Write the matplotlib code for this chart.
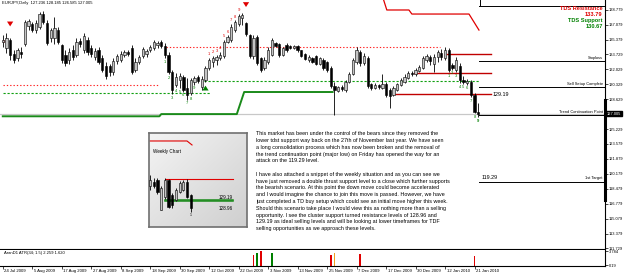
import matplotlib
matplotlib.use("Agg")
import matplotlib.pyplot as plt
import matplotlib.transforms as mtransforms
import numpy as np

plt.rcParams['font.family'] = ['Liberation Sans', 'DejaVu Sans']

W, H = 625, 274

# ---------------- daily EURJPY candles (bar index 0 = 24 Jul 2009) ----------------
opens = [135.1, 134.5, 135.4, 133.8, 133.3, 134.0, 134.9, 137.0, 137.2, 136.5,
         136.8, 138.3, 137.3, 135.6, 135.6, 136.5, 134.8, 133.7, 133.1, 134.2,
         133.7, 135.3, 134.2, 135.4, 134.5, 133.4, 134.2, 133.3, 132.4, 132.4,
         131.7, 133.0, 133.1, 133.7, 134.0, 134.5, 132.0, 132.9, 133.6, 133.8,
         134.2, 134.5, 134.8, 135.1, 134.7, 133.7, 131.7, 130.3, 130.8, 131.2,
         129.9, 129.3, 130.6, 131.2, 130.0, 130.8, 132.2, 132.9, 133.1, 133.3,
         133.6, 135.1, 135.4, 136.5, 137.2, 137.9, 137.3, 135.9, 133.6, 135.7,
         133.3, 132.2, 132.9, 133.7, 135.0, 134.9, 133.7, 134.8, 134.7, 134.5,
         134.7, 134.2, 133.8, 133.1, 133.3, 133.6, 132.6, 133.1, 132.9, 132.2,
         130.1, 129.6, 130.0, 129.7, 130.6, 131.5, 132.9, 134.0, 132.8, 133.3,
         130.4, 129.9, 130.3, 129.9, 130.4, 129.7, 129.1, 129.7, 130.3, 130.6,
         131.1, 131.6, 131.5, 131.8, 132.2, 133.1, 133.4, 132.6, 133.4, 133.9,
         133.3, 134.2, 132.5, 132.0, 132.4, 130.8, 130.5, 130.6, 129.1, 127.236]
highs = [135.9, 136.2, 135.6, 134.2, 134.5, 134.6, 137.6, 137.8, 137.4, 137.6,
         138.5, 138.7, 137.6, 136.7, 138.0, 136.8, 134.9, 134.2, 134.5, 134.8,
         135.6, 135.6, 136.2, 135.7, 134.8, 134.5, 134.6, 133.7, 132.9, 132.6,
         133.3, 133.8, 134.1, 134.2, 134.2, 134.8, 133.3, 133.7, 134.6, 134.3,
         134.8, 135.4, 135.3, 135.4, 135.0, 134.0, 132.0, 131.6, 131.6, 131.4,
         131.1, 131.1, 131.3, 131.4, 131.3, 132.4, 133.3, 133.6, 133.7, 134.0,
         135.4, 135.9, 137.2, 137.6, 138.3, 138.4, 137.4, 136.0, 135.9, 135.9,
         133.4, 133.4, 134.6, 135.6, 135.1, 135.0, 134.6, 135.0, 134.8, 134.8,
         134.8, 134.2, 133.9, 133.7, 133.4, 133.7, 133.4, 133.3, 133.0, 132.4,
         130.6, 130.1, 130.3, 130.8, 131.7, 133.3, 134.6, 134.2, 133.9, 133.6,
         130.5, 130.5, 130.4, 131.5, 130.6, 129.9, 130.1, 130.5, 131.1, 131.5,
         131.8, 131.8, 132.2, 132.5, 133.6, 133.8, 133.7, 133.8, 134.2, 134.3,
         134.6, 134.5, 132.8, 133.4, 132.8, 131.3, 130.9, 130.8, 129.3, 128.185]
lows = [134.6, 133.9, 133.1, 132.8, 133.0, 133.3, 134.7, 136.5, 136.3, 136.2,
        136.6, 137.2, 134.8, 135.1, 134.9, 134.9, 132.8, 132.4, 132.6, 133.1,
        133.4, 134.6, 133.9, 133.7, 133.4, 133.1, 132.6, 131.7, 130.9, 131.3,
        131.4, 132.6, 132.9, 133.4, 133.6, 131.5, 131.7, 132.6, 133.3, 133.4,
        134.0, 134.2, 134.5, 134.5, 133.3, 131.5, 129.2, 130.0, 129.9, 129.5,
        128.6, 129.1, 130.3, 130.5, 129.7, 130.6, 132.0, 132.3, 132.5, 133.1,
        133.3, 135.0, 135.1, 136.3, 137.0, 137.1, 135.8, 133.3, 133.2, 132.5,
        131.7, 132.0, 132.6, 133.6, 134.6, 133.4, 133.6, 134.0, 134.3, 134.3,
        134.0, 133.4, 133.1, 132.9, 132.8, 132.5, 132.5, 132.0, 131.7, 129.9,
        126.85, 129.5, 129.6, 129.5, 130.5, 131.4, 132.6, 132.4, 132.5, 129.9,
        129.7, 129.8, 129.8, 129.8, 128.9, 127.6, 129.0, 129.6, 130.1, 130.5,
        130.9, 131.3, 131.3, 131.7, 132.1, 132.9, 132.5, 131.7, 132.9, 133.1,
        133.1, 131.7, 132.0, 131.7, 130.5, 130.4, 130.3, 128.9, 127.1, 126.585]
closes = [135.4, 135.6, 133.7, 133.1, 134.2, 133.8, 137.4, 137.5, 136.5, 137.3,
          138.3, 137.4, 135.0, 136.5, 136.7, 135.1, 133.1, 132.8, 134.0, 133.4,
          135.1, 134.9, 135.8, 134.0, 133.8, 134.1, 132.9, 132.0, 131.3, 131.7,
          133.0, 133.6, 133.8, 134.0, 133.8, 131.7, 132.9, 133.4, 134.3, 134.1,
          134.6, 135.1, 135.0, 134.7, 133.7, 131.7, 129.7, 131.2, 131.3, 129.7,
          129.1, 130.8, 131.1, 130.7, 130.9, 132.2, 133.1, 133.3, 133.4, 133.7,
          135.1, 135.7, 136.8, 137.4, 138.1, 138.2, 136.0, 133.6, 135.6, 132.8,
          132.0, 133.1, 134.2, 135.4, 134.7, 133.7, 134.5, 134.2, 134.5, 134.7,
          134.2, 133.6, 133.2, 133.4, 132.9, 132.6, 133.3, 132.2, 132.0, 130.1,
          129.7, 130.0, 129.8, 130.6, 131.5, 133.1, 134.2, 132.8, 133.6, 130.1,
          129.9, 130.3, 130.0, 130.4, 129.1, 129.0, 129.9, 130.4, 130.8, 131.2,
          131.6, 131.5, 132.0, 132.3, 133.3, 133.6, 133.0, 133.4, 134.0, 133.4,
          134.2, 132.0, 132.2, 133.1, 130.8, 130.6, 130.7, 129.1, 127.2, 127.005]

date_idx = list(range(0, 129, 8))
date_labels = ['24 Jul 2009', '5 Aug 2009', '17 Aug 2009', '27 Aug 2009', '8 Sep 2009',
               '18 Sep 2009', '30 Sep 2009', '12 Oct 2009', '22 Oct 2009', '3 Nov 2009',
               '13 Nov 2009', '25 Nov 2009', '7 Dec 2009', '17 Dec 2009', '30 Dec 2009',
               '12 Jan 2010', '21 Jan 2010']
price_ticks = [138.779, 137.079, 135.379, 133.729, 132.029, 130.329, 128.629, 125.229,
               123.579, 121.879, 120.179, 118.479, 116.779, 115.079, 113.379, 111.729]
last_price = 127.005

# TD lines
tdst_sup_x = [0, 42.5, 43, 63.5, 65.5, 89.5]
tdst_sup_y = [126.7, 126.7, 126.95, 126.95, 129.46, 129.46]
tdst_res_x = [102.9, 104.2, 110.2, 111.0, 126.5, 129.2]
tdst_res_y = [140.5, 138.78, 138.78, 138.32, 138.32, 136.5]
red_dot = [(0, 42.4, 130.26), (44.3, 118.5, 134.63)]
green_dash = [(0, 56.4, 129.35), (54.5, 129.2, 130.67)]
red_levels = [(120.4, 132.5, 133.79), (111.5, 132.5, 131.62), (106.4, 132.5, 129.19)]
black_levels = [139.23, 133.02, 130.06, 126.85, 119.29]
black_names = ['', 'Stoploss', 'Sell Setup Complete', 'Trend Continuation Point', '1st Target']

green_setup_idx = list(range(44, 53))
red_setup_idx = list(range(56, 65))
countdown_idx = list(range(121, 130))

# indicator (AranD1 ATR)
ind_idx = [68, 69, 70, 73, 89, 90, 97, 128]
ind_val = [2.8, 3.25, 3.85, 3.3, 2.8, 3.4, 3.1, 2.55]
ind_col = ['#e00000', '#008000', '#e00000', '#008000', '#e00000', '#f0a020', '#e00000', '#e00000']

# weekly snippet
wk_open = [132.22, 133.11, 133.56, 126.87, 129.77, 133.56, 130.22, 129.10, 130.88, 131.33, 133.11, 130.22]
wk_high = [134.68, 134.01, 134.01, 132.22, 134.01, 133.78, 130.66, 131.78, 133.34, 133.56, 133.78, 130.44]
wk_low = [131.33, 131.78, 130.44, 126.87, 129.32, 127.32, 127.32, 128.88, 130.66, 131.11, 129.55, 126.42]
wk_close = [133.56, 132.22, 130.88, 131.78, 133.56, 127.54, 127.99, 131.33, 132.89, 133.11, 129.77, 127.32]

para = [
    "This market has been under the control of the bears since they removed the",
    "lower tdst support way back on the 27th of November last year. We have seen",
    "a long consolidation process which has now been broken and the removal of",
    "the trend continuation point (major low) on Friday has opened the way for an",
    "attack on the 119.29 level.",
    "",
    "I have also attached a snippet of the weekly situation and as you can see we",
    "have just removed a double thrust support level to a close which further supports",
    "the bearish scenario. At this point the down move could become accelerated",
    "and I would imagine the chance to join this move is passed. However, we have",
    "just completed a TD buy setup which could see an initial move higher this week.",
    "Should this scenario take place I would view this as nothing more than a selling",
    "opportunity. I see the cluster support turned resistance levels of 128.96 and",
    "129.19 as ideal selling levels and will be looking at lower timeframes for TDF",
    "selling opportunities as we approach these levels.",
]

RED = '#e00000'
GREEN = '#008000'


def add_ax(x0, y0, x1, y1):
    return fig.add_axes([x0 / W, 1 - y1 / H, (x1 - x0) / W, (y1 - y0) / H])


def candles(ax, o, h, l, c, width):
    x = np.arange(len(o))
    o, h, l, c = map(np.array, (o, h, l, c))
    ax.vlines(x, l, h, color='black', lw=0.6, zorder=3)
    up = c >= o
    ax.bar(x[up], (c - o)[up], bottom=o[up], width=width, color='#c4c4c4',
           edgecolor='black', lw=0.4, zorder=4)
    ax.bar(x[~up], (o - c)[~up], bottom=c[~up], width=width, color='black',
           edgecolor='black', lw=0.4, zorder=4)


fig = plt.figure(figsize=(W / 100, H / 100), dpi=100)

# ---------------- main chart ----------------
ax = add_ax(0, 0, 605, 249)
ax.set_xlim(-0.75, 163.4)
ax.set_ylim(111.62, 139.915)
for s in ['top', 'left']:
    ax.spines[s].set_visible(False)
for s in ['right', 'bottom']:
    ax.spines[s].set_linewidth(0.8)
ax.set_xticks([])
ax.yaxis.tick_right()
ax.set_yticks(price_ticks)
ax.set_yticklabels([f'{v:.3f}' for v in price_ticks], fontsize=2.9)
ax.tick_params(axis='y', length=2, width=0.5, pad=1)

ax.axhline(last_price, color='#c8c8c8', lw=0.9, zorder=1)
ax.plot(tdst_sup_x, tdst_sup_y, color='#1a8a1a', lw=1.4, zorder=2)
ax.plot(tdst_res_x, tdst_res_y, color=RED, lw=0.9, zorder=2)
for x0, x1, y in red_dot:
    ax.plot([x0, x1], [y, y], color='#ff2020', lw=0.8, ls=(0, (1.2, 1.8)), zorder=2)
for x0, x1, y in green_dash:
    ax.plot([x0, x1], [y, y], color='#10a010', lw=0.8, ls=(0, (2.0, 1.6)), zorder=2)
for x0, x1, y in red_levels:
    ax.plot([x0, x1], [y, y], color='#c00000', lw=1.0, zorder=2)
for y, name in zip(black_levels, black_names):
    ax.plot([129.25, 163.4], [y, y], color='black', lw=0.7, zorder=2)
    if name:
        ax.text(162.8, y + 0.12, name, fontsize=2.9, ha='right', va='bottom')
ax.plot([129.5, 129.5], [139.3, 139.915], color='black', lw=0.7)

candles(ax, opens, highs, lows, closes, 0.62)

# setup / countdown numbers
for k, i in enumerate(green_setup_idx):
    ax.text(i, lows[i] - 0.2, str(k + 1), color=GREEN, fontsize=3, ha='center', va='top')
for k, i in enumerate(red_setup_idx):
    ax.text(i, highs[i] + 0.2, str(k + 1), color=RED, fontsize=3, ha='center', va='bottom')
for k, i in enumerate(countdown_idx):
    ax.text(i, lows[i] - 0.2, str(k + 1), color=GREEN, fontsize=3, ha='center', va='top',
            fontweight='bold' if k == 8 else 'normal')
ax.text(0.3, 135.1, '9', color=RED, fontsize=3, ha='center', va='center')

# arrows
arr = dict(arrowstyle='simple,head_width=0.9,head_length=0.7,tail_width=0.35',
           mutation_scale=5, lw=0)
ax.annotate('', xy=(2, 136.6), xytext=(2, 137.6), arrowprops=dict(color=RED, **arr))
ax.annotate('', xy=(66, 138.8), xytext=(66, 139.8), arrowprops=dict(color=RED, **arr))
ax.annotate('', xy=(55, 130.5), xytext=(55, 129.5), arrowprops=dict(color=GREEN, **arr))

# labels
ax.text(132.8, 129.19, '129.19', fontsize=3.9, va='center', ha='left')
ax.text(130.0, 119.29 + 0.2, '119.29', fontsize=3.9, va='bottom', ha='left')
ax.text(162.8, 138.9, 'TDS Resistance', color=RED, fontsize=4.1, fontweight='bold', ha='right', va='center')
ax.text(162.8, 138.3, '133.79', color=RED, fontsize=4.1, fontweight='bold', ha='right', va='center')
ax.text(162.8, 137.55, 'TDS Support', color=GREEN, fontsize=4.1, fontweight='bold', ha='right', va='center')
ax.text(162.8, 136.95, '130.67', color=GREEN, fontsize=4.1, fontweight='bold', ha='right', va='center')

trans = mtransforms.blended_transform_factory(ax.transAxes, ax.transData)
ax.text(1.003, last_price, '127.005', transform=trans, fontsize=2.9, color='white',
        ha='left', va='center', bbox=dict(facecolor='black', edgecolor='black', pad=0.5))
ax.plot([1, 1], [117.2, 128.55], transform=trans, color='black', lw=2.2, clip_on=False)

fig.text(2 / W, 1 - 3 / H, 'EURJPY,Daily  127.236 128.185 126.585 127.005', fontsize=3.0, va='center')

# ---------------- indicator ----------------
ai = add_ax(0, 250, 605, 266)
ai.set_xlim(-0.75, 163.4)
ai.set_ylim(0, 4.1)
ai.bar(ind_idx, ind_val, width=0.45, color=ind_col)
ai.spines['top'].set_visible(False)
ai.spines['left'].set_visible(False)
for s in ['right', 'bottom']:
    ai.spines[s].set_linewidth(0.8)
ai.yaxis.tick_right()
ai.set_yticks([3.784, 0.19])
ai.set_yticklabels(['3.784', '0.19'], fontsize=2.9)
ai.tick_params(axis='y', length=2, width=0.5, pad=1)
ai.set_xticks(date_idx)
ai.set_xticklabels(date_labels, fontsize=3.1)
ai.tick_params(axis='x', length=2, width=0.5, pad=0.5)
off = mtransforms.ScaledTranslation(1.5 / 100, 0, fig.dpi_scale_trans)
for lbl in ai.get_xticklabels():
    lbl.set_ha('left')
    lbl.set_transform(lbl.get_transform() + off)
ai.text(0.3, 3.4, 'AranD1 ATR(34; 1.5) 2.259 1.620', fontsize=3.0, va='center')

# ---------------- weekly snippet ----------------
aw = add_ax(149, 133, 247, 227)
aw.set_xlim(-0.27, 26.2)
aw.set_ylim(123.08, 144.04)
aw.set_xticks([])
aw.set_yticks([])
grad = np.linspace(0, 1, 100)[None, :] + np.linspace(0, 1, 100)[:, None]
aw.imshow(grad, cmap=matplotlib.colors.LinearSegmentedColormap.from_list('g', ['#f4f4f4', '#cfcfcf']),
          extent=(-0.27, 26.2, 123.08, 144.04), aspect='auto', zorder=0)
for s in aw.spines.values():
    s.set_color('#707070')
    s.set_linewidth(1.2)
aw.plot([0, 10, 11.35], [142.26, 142.26, 141.37], color=RED, lw=0.8)
aw.text(0.8, 139.9, 'Weekly Chart', fontsize=3.3, va='center')
aw.plot([4.05, 22.4], [133.79, 133.79], color=RED, lw=0.8)
aw.plot([4.05, 22.4], [129.19, 129.19], color='#1a8a1a', lw=1.1)
aw.plot([4.05, 22.4], [128.96, 128.96], color='#1a8a1a', lw=1.1)
candles(aw, wk_open, wk_high, wk_low, wk_close, 0.6)
aw.text(18.6, 129.7, '129.19', fontsize=3.3, va='center')
aw.text(18.6, 127.3, '128.96', fontsize=3.3, va='center')
aw.text(11, 126.1, '1', fontsize=2.5, va='top', ha='center')

# ---------------- commentary ----------------
# size the paragraph so its longest line spans the same width as in the screenshot
renderer = fig.canvas.get_renderer()
probe = fig.text(0, 0, max(para, key=len), fontsize=10)
wpx = probe.get_window_extent(renderer).width
probe.remove()
fs = 10 * 194 / wpx
for k, line in enumerate(para):
    fig.text(256.5 / W, 1 - (134 + 6.75 * k) / H, line, fontsize=fs, va='center')

fig.savefig('out.png', dpi=100)
